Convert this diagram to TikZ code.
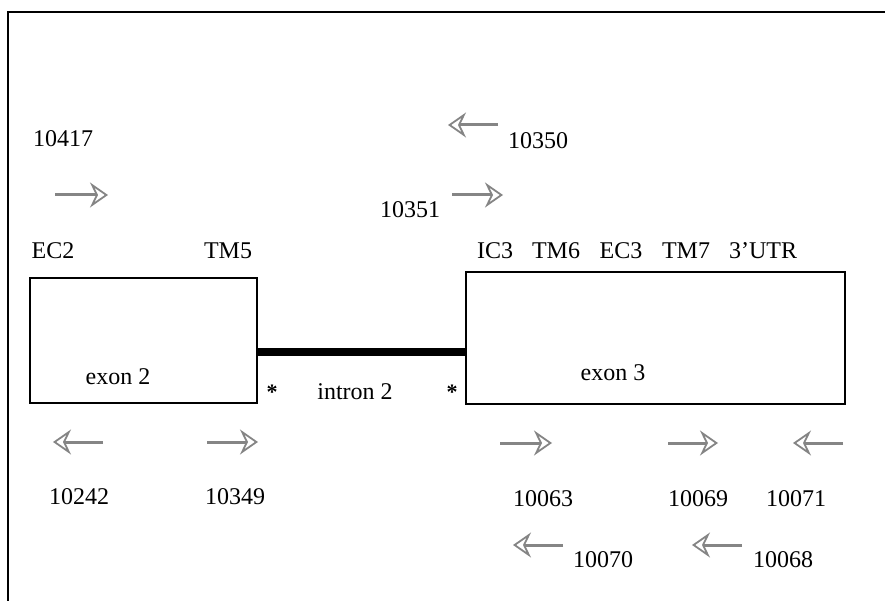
\documentclass[tikz,border=0pt]{standalone}
\usepackage{fontspec}
\setmainfont{Liberation Serif}
\usetikzlibrary{arrows.meta,positioning}
\definecolor{primergray}{HTML}{858585}

\begin{document}
\begin{tikzpicture}[x=1pt, y=-1pt, font=\fontsize{24}{28}\selectfont,
  exon/.style={draw, line width=2.8pt, inner sep=0pt},
  primer/.style={primergray, line width=3pt,
    -{Stealth[open, length=18pt, width=25pt, inset=6pt, line width=1.8pt]}},
  lbl/.style={inner sep=1pt}]
  \useasboundingbox (0,0) rectangle (885,601);
  % frame
  \draw[line width=2.4pt] (8,601) -- (8,12) -- (885,12);

  % exons and intron
  \node[exon, minimum width=227pt, minimum height=125pt] (exon2) at (143.5,340.5) {};
  \node[exon, minimum width=379pt, minimum height=132pt] (exon3) at (655.5,338) {};
  \draw[line width=7.5pt] ([yshift=-11.5pt]exon2.east) -- ([yshift=-14pt]exon3.west);
  \node[lbl] (ex2) at (118,377) {exon 2};
  \node[lbl] (ex3) at (613,373) {exon 3};
  \node[lbl] (intr) at (355,392) {intron 2};
  \node[lbl, font=\fontsize{22}{22}\selectfont\bfseries] (star1) at (272,392) {*};
  \node[lbl, font=\fontsize{22}{22}\selectfont\bfseries] (star2) at (452,392) {*};

  % domains
  \node[lbl] (ec2) at (53,251) {EC2};
  \node[lbl] (tm5) at (228,251) {TM5};
  \node[lbl] (ic3) at (495,251) {IC3};
  \node[lbl] (tm6) at (556,251) {TM6};
  \node[lbl] (ec3) at (621,251) {EC3};
  \node[lbl] (tm7) at (686,251) {TM7};
  \node[lbl] (utr) at (763,251) {3’UTR};

  % primers above
  \node[lbl] (p10417) at (63,139) {10417};
  \draw[primer] (55,195) -- (108,195);
  \node[lbl] (p10350) at (538,141) {10350};
  \draw[primer] (498,125) -- (448,125);
  \node[lbl] (p10351) at (410,210) {10351};
  \draw[primer] (452,195) -- (503,195);

  % primers below
  \draw[primer] (103,442) -- (53,442);
  \node[lbl] (p10242) at (79,497) {10242};
  \draw[primer] (207,442) -- (258,442);
  \node[lbl] (p10349) at (235,497) {10349};
  \draw[primer] (500,443) -- (552,443);
  \node[lbl] (p10063) at (543,499) {10063};
  \draw[primer] (668,443) -- (718,443);
  \node[lbl] (p10069) at (698,499) {10069};
  \draw[primer] (843,443) -- (793,443);
  \node[lbl] (p10071) at (796,499) {10071};
  \draw[primer] (563,545) -- (513,545);
  \node[lbl] (p10070) at (603,560) {10070};
  \draw[primer] (742,545) -- (692,545);
  \node[lbl] (p10068) at (783,560) {10068};
\end{tikzpicture}
\end{document}
